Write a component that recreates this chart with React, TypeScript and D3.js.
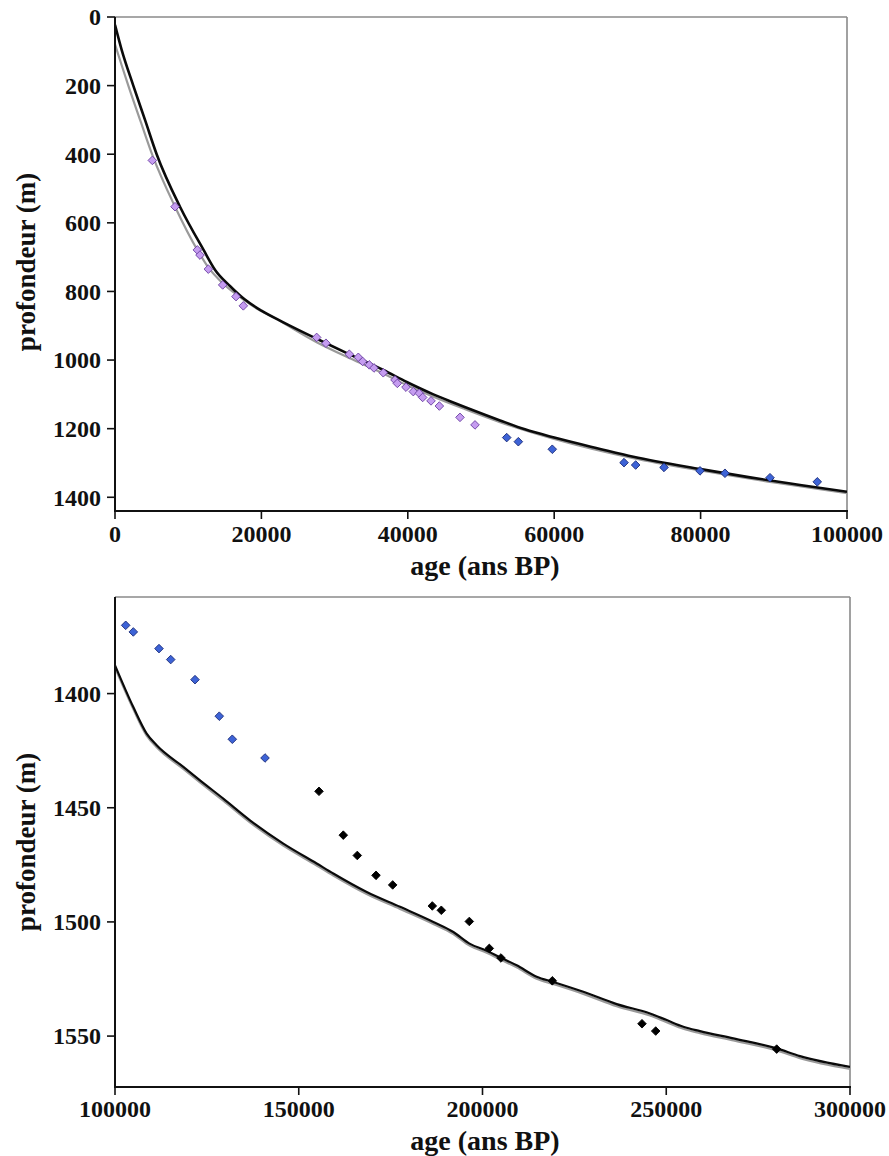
import React from "react";
import * as d3 from "d3";

// ---------- Top chart data ----------
const topXTicks = [0, 20000, 40000, 60000, 80000, 100000];
const topYTicks = [0, 200, 400, 600, 800, 1000, 1200, 1400];

const topBlackAge = [0, 900, 2500, 4100, 5690, 8880, 12100, 13700, 15700, 17700, 20000, 23000, 27550, 32100, 36650, 39850, 43490, 45770, 48040, 52600, 56000, 60000, 66260, 70810, 80000, 86750, 93580, 100000];
const topBlackDepth = [23, 95, 200, 300, 400, 553, 679, 738, 784, 823, 856, 890, 938, 984, 1029, 1064, 1100, 1120, 1139, 1176, 1202, 1226, 1259, 1282, 1318, 1342, 1364, 1384];

const topGreyAge = [0, 900, 1820, 3510, 5150, 8200, 11250, 12750, 14710, 16530, 19000, 22000, 27550, 32100, 36650, 39850, 43490, 48040, 52600, 60000, 70810, 80000, 90000, 100000];
const topGreyDepth = [80, 140, 200, 305, 405, 553, 679, 730, 776, 808, 845, 880, 948, 995, 1039, 1073, 1107, 1145, 1181, 1230, 1286, 1322, 1357, 1388];

const topPurpleAge = [5100, 8200, 11250, 11610, 12750, 14710, 16530, 17530, 27550, 28820, 32010, 33240, 33830, 34740, 35380, 36650, 38250, 38570, 39750, 40750, 41570, 42030, 43170, 44310, 47130, 49180];
const topPurpleDepth = [418, 553, 679, 694, 735, 781, 815, 842, 934, 951, 983, 992, 1004, 1014, 1023, 1037, 1058, 1068, 1079, 1092, 1097, 1109, 1119, 1134, 1167, 1189];

const topBlueAge = [53510, 55100, 59740, 69540, 71130, 75000, 79920, 83330, 89480, 95940];
const topBlueDepth = [1226, 1238, 1260, 1299, 1306, 1313, 1323, 1330, 1343, 1355];

// ---------- Bottom chart data ----------
const botXTicks = [100000, 150000, 200000, 250000, 300000];
const botYTicks = [1400, 1450, 1500, 1550];

const botBlackAge = [100000, 104980, 108620, 111340, 118590, 123130, 129470, 136730, 145800, 154880, 159400, 168490, 177550, 186620, 192060, 196600, 201140, 204760, 209290, 214730, 219270, 227430, 236510, 245580, 250120, 254650, 259180, 268250, 280050, 286390, 300000];
const botBlackDepth = [1387.6, 1405.9, 1417.5, 1422.6, 1432.1, 1438, 1446, 1455.5, 1465.7, 1474.4, 1478.8, 1486.9, 1493.4, 1500, 1504.4, 1509.6, 1512.6, 1515.5, 1519, 1524, 1526.3, 1530.6, 1536, 1540.1, 1543, 1545.9, 1547.8, 1551, 1555.4, 1558.8, 1563.5];
const botGreyDepth = [1388.6, 1406.8, 1418.4, 1423.5, 1433, 1438.9, 1446.9, 1456.4, 1466.6, 1475.3, 1479.7, 1487.8, 1494.3, 1500.9, 1505.3, 1510.5, 1513.5, 1516.4, 1519.9, 1524.9, 1527.2, 1531.5, 1536.9, 1541, 1543.9, 1546.8, 1548.7, 1551.9, 1556.3, 1559.7, 1564.4];

const botBlueAge = [102910, 104980, 111970, 115160, 121770, 128380, 131920, 140820];
const botBlueDepth = [1370.1, 1373, 1380.3, 1385.1, 1393.9, 1409.9, 1420, 1428.2];

const botBlackPtAge = [155510, 162120, 165930, 171020, 175560, 186340, 188790, 196410, 201850, 205030, 219000, 243400, 247130, 280050];
const botBlackPtDepth = [1442.8, 1462, 1470.9, 1479.6, 1483.8, 1493, 1494.9, 1499.8, 1511.6, 1515.8, 1525.8, 1544.6, 1547.8, 1555.7];

const FONT = "Liberation Serif, DejaVu Serif, Noto Serif, serif";

const diamond = (r: number) => `M0,${-r}L${r},0L0,${r}L${-r},0Z`;

type Series = { age: number[]; depth: number[] };

function Panel(props: {
  x0: number; x1: number; y0: number; y1: number;
  xDomain: [number, number]; yDomain: [number, number];
  xTicks: number[]; yTicks: number[];
  lines: { s: Series; color: string; width: number }[];
  points: { s: Series; fill: string; stroke: string }[];
  titleY: number; xTickBase: number; xTitleBase: number;
}) {
  const { x0, x1, y0, y1 } = props;
  const x = d3.scaleLinear().domain(props.xDomain).range([x0, x1]);
  const y = d3.scaleLinear().domain(props.yDomain).range([y0, y1]);
  const line = d3.line<[number, number]>()
    .x((d) => x(d[0]))
    .y((d) => y(d[1]))
    .curve(d3.curveMonotoneX);
  const clipId = `clip-${y0}`;
  return (
    <g>
      <defs>
        <clipPath id={clipId}>
          <rect x={x0} y={y0} width={x1 - x0} height={y1 - y0} />
        </clipPath>
      </defs>
      <line x1={x0} x2={x1} y1={y0} y2={y0} stroke="#8a8a8a" strokeWidth={1.6} />
      <line x1={x1} x2={x1} y1={y0} y2={y1} stroke="#8a8a8a" strokeWidth={1.6} />
      <g clipPath={`url(#${clipId})`}>
        {props.lines.map((l, i) => (
          <path
            key={i}
            d={line(l.s.age.map((a, j) => [a, l.s.depth[j]] as [number, number])) || ""}
            fill="none"
            stroke={l.color}
            strokeWidth={l.width}
          />
        ))}
      </g>
      {props.points.map((p, i) => (
        <g key={i}>
          {p.s.age.map((a, j) => (
            <path
              key={j}
              d={diamond(4.3)}
              transform={`translate(${x(a)},${y(p.s.depth[j])})`}
              fill={p.fill}
              stroke={p.stroke}
              strokeWidth={0.9}
            />
          ))}
        </g>
      ))}
      <line x1={x0} x2={x0} y1={y0} y2={y1 + 1} stroke="#111" strokeWidth={2} />
      <line x1={x0 - 1} x2={x1 + 1} y1={y1} y2={y1} stroke="#111" strokeWidth={2} />
      {props.yTicks.map((t) => (
        <g key={t}>
          <line x1={x0 - 8} x2={x0} y1={y(t)} y2={y(t)} stroke="#111" strokeWidth={1.6} />
          <text x={x0 - 14} y={y(t)} dy="0.35em" textAnchor="end" fontFamily={FONT} fontWeight="bold" fontSize={24} fill="#111">
            {t}
          </text>
        </g>
      ))}
      {props.xTicks.map((t) => (
        <g key={t}>
          <line x1={x(t)} x2={x(t)} y1={y1} y2={y1 + 8} stroke="#111" strokeWidth={1.6} />
          <text x={x(t)} y={props.xTickBase} textAnchor="middle" fontFamily={FONT} fontWeight="bold" fontSize={24} fill="#111">
            {t}
          </text>
        </g>
      ))}
      <text x={485} y={props.xTitleBase} textAnchor="middle" fontFamily={FONT} fontWeight="bold" fontSize={28} fill="#111">
        age (ans BP)
      </text>
      <text transform={`translate(35,${props.titleY}) rotate(-90)`} textAnchor="middle" fontFamily={FONT} fontWeight="bold" fontSize={27} fill="#111">
        profondeur (m)
      </text>
    </g>
  );
}

export default function App() {
  return (
    <svg width={889} height={1156} style={{ position: "absolute", left: 0, top: 0, background: "#fff" }}>
      <rect x={0} y={0} width={889} height={1156} fill="#fff" />
      <Panel
        x0={115} x1={847} y0={17} y1={511}
        xDomain={[0, 100000]} yDomain={[0, 1440]}
        xTicks={topXTicks} yTicks={topYTicks}
        lines={[
          { s: { age: topGreyAge, depth: topGreyDepth }, color: "#9a9a9a", width: 2.2 },
          { s: { age: topBlackAge, depth: topBlackDepth }, color: "#0a0a0a", width: 2.6 },
        ]}
        points={[
          { s: { age: topPurpleAge, depth: topPurpleDepth }, fill: "#c59cf0", stroke: "#6a3fa0" },
          { s: { age: topBlueAge, depth: topBlueDepth }, fill: "#3d63d6", stroke: "#1a2a78" },
        ]}
        titleY={262} xTickBase={542} xTitleBase={575}
      />
      <Panel
        x0={115} x1={850} y0={597} y1={1087}
        xDomain={[100000, 300000]} yDomain={[1357.7, 1572.3]}
        xTicks={botXTicks} yTicks={botYTicks}
        lines={[
          { s: { age: botBlackAge, depth: botGreyDepth }, color: "#9a9a9a", width: 2.2 },
          { s: { age: botBlackAge, depth: botBlackDepth }, color: "#0a0a0a", width: 2.2 },
        ]}
        points={[
          { s: { age: botBlueAge, depth: botBlueDepth }, fill: "#3d63d6", stroke: "#1a2a78" },
          { s: { age: botBlackPtAge, depth: botBlackPtDepth }, fill: "#000", stroke: "#000" },
        ]}
        titleY={842} xTickBase={1117} xTitleBase={1150}
      />
    </svg>
  );
}
